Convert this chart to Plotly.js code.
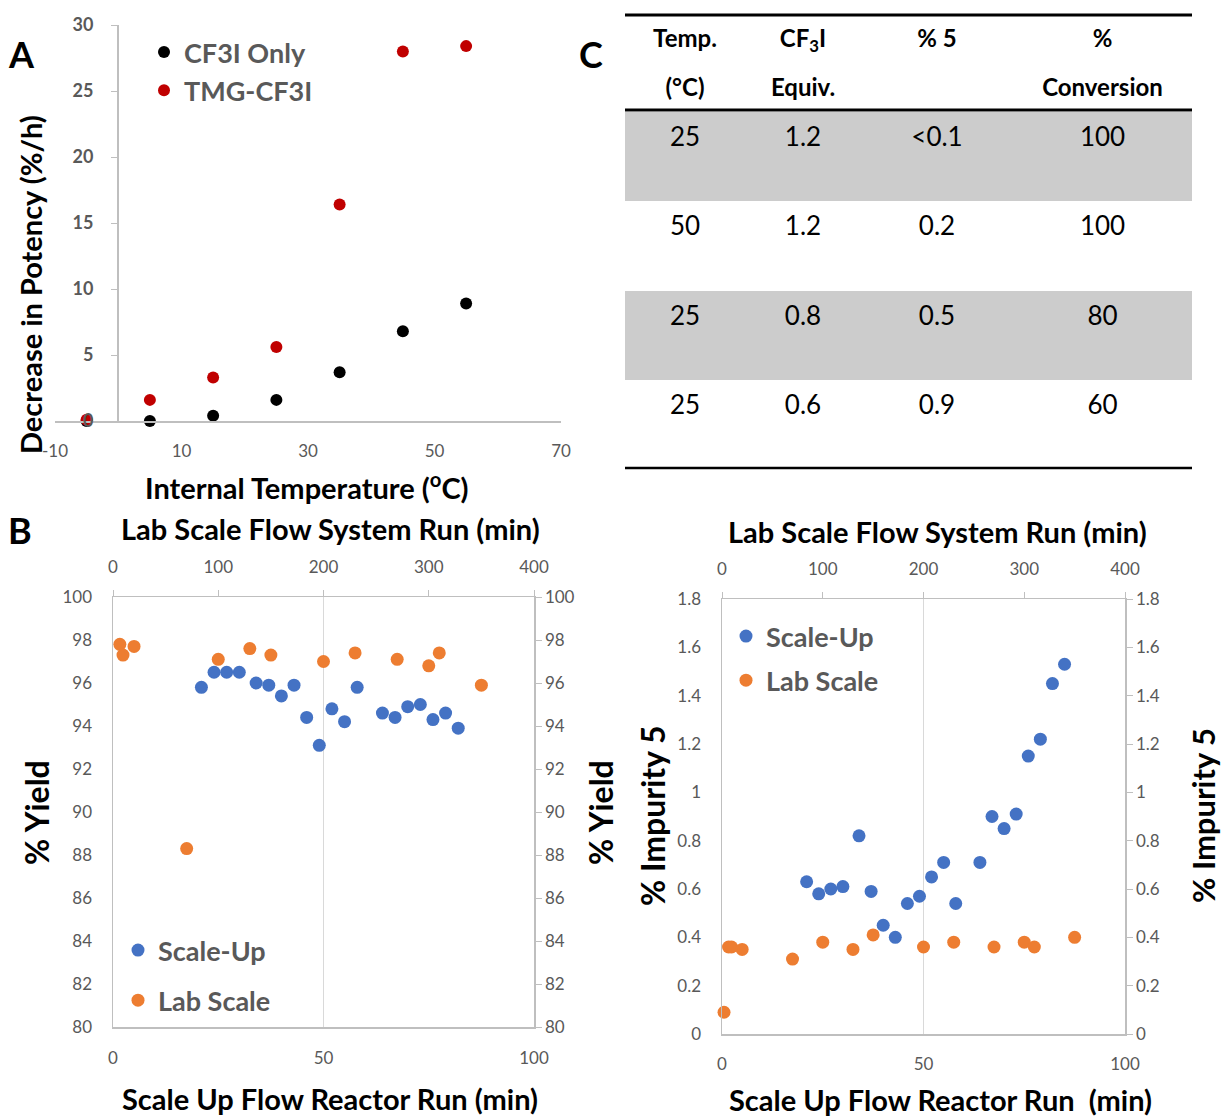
<!DOCTYPE html>
<html><head><meta charset="utf-8">
<script src="https://cdn.plot.ly/plotly-3.0.1.min.js"></script>
<style>html,body{margin:0;padding:0;background:#fff}#chart{width:1221px;height:1118px}</style>
</head><body><div id="chart"></div>
<script>
// ---------- Panel A data ----------
const tempC    = [-5, 5, 15, 25, 35, 45, 55];
const cf3iOnly = [0.0, 0.0, 0.4, 1.6, 3.7, 6.8, 8.9];
const tmgCf3i  = [0.1, 1.6, 3.3, 5.6, 16.4, 28.0, 28.4];
const tempTickVals = [-10, 10, 30, 50, 70];
const tempTickText = ['-10', '10', '30', '50', '70'];
// ---------- Panel B data ----------
const scaleUpYieldTime = [21,24,27,30,34,37,40,43,46,49,52,55,58,64,67,70,73,76,79,82];
const scaleUpYield     = [95.8,96.5,96.5,96.5,96.0,95.9,95.4,95.9,94.4,93.1,94.8,94.2,95.8,94.6,94.4,94.9,95.0,94.3,94.6,93.9];
const labYieldTime     = [6.5,9.5,20,70,100,130,150,200,230,270,300,310,350];
const labYield         = [97.8,97.3,97.7,88.3,97.1,97.6,97.3,97.0,97.4,97.1,96.8,97.4,95.9];
// ---------- Panel D data ----------
const scaleUpImpTime = [21,24,27,30,34,37,40,43,46,49,52,55,58,64,67,70,73,76,79,82,85];
const scaleUpImp     = [0.63,0.58,0.60,0.61,0.82,0.59,0.45,0.40,0.54,0.57,0.65,0.71,0.54,0.71,0.90,0.85,0.91,1.15,1.22,1.45,1.53];
const labImpTime     = [2,6.5,9.5,20,70,100,130,150,200,230,270,300,310,350];
const labImp         = [0.09,0.36,0.36,0.35,0.31,0.38,0.35,0.41,0.36,0.38,0.36,0.38,0.36,0.40];
const impTicks       = [0,0.2,0.4,0.6,0.8,1,1.2,1.4,1.6,1.8];
// ---------- Table C data ----------
const headerRow1 = ['Temp.', 'CF<sub>3</sub>I', '% 5', '%'];
const headerRow2 = ['(°C)', 'Equiv.', ' ', 'Conversion'];
const colTemp  = ['25','50','25','25'];
const colEquiv = ['1.2','1.2','0.8','0.6'];
const colImp5  = ['<0.1','0.2','0.5','0.9'];
const colConv  = ['100','100','80','60'];
const rowFills = ['#CCCCCC','#FFFFFF','#CCCCCC','#FFFFFF'];

// ---------- helpers / styles ----------
const W = 1221, H = 1118;
const fx = p => p / W, fy = p => 1 - p / H;
const FONT = 'Lato, "Open Sans", sans-serif';
const AX = '#BFBFBF', GRID = '#D9D9D9', TXT = '#595959';
const BLUE = '#4472C4', ORANGE = '#ED7D31', RED = '#C00000';
const tickFont = {family: FONT, size: 17, color: TXT};
const baseAx = {showline: true, linecolor: AX, linewidth: 1.5, showgrid: false, zeroline: false,
                tickfont: tickFont, fixedrange: true, ticks: '', tickcolor: AX, ticklen: 6};
const cellText = col => col.map(v => '<span>' + v + '</span>');

const mk = (c, s) => ({color: c, size: s});
const traces = [
  {type:'scatter', mode:'markers', name:'CF3I Only', x: tempC, y: cf3iOnly, xaxis:'x', yaxis:'y',
   marker: mk('#000000', 12), cliponaxis:false, legend:'legend', legendgroup:'a1'},
  {type:'scatter', mode:'markers', name:'TMG-CF3I', x: tempC, y: tmgCf3i, xaxis:'x', yaxis:'y',
   marker: mk(RED, 12), cliponaxis:false, legend:'legend', legendgroup:'a2'},
  {type:'scatter', mode:'markers', name:'Scale-Up', x: scaleUpYieldTime, y: scaleUpYield, xaxis:'x2', yaxis:'y2',
   marker: mk(BLUE, 13), cliponaxis:false, legend:'legend2', legendgroup:'b1'},
  {type:'scatter', mode:'markers', name:'Lab Scale', x: labYieldTime, y: labYield, xaxis:'x3', yaxis:'y3',
   marker: mk(ORANGE, 13), cliponaxis:false, legend:'legend2', legendgroup:'b2'},
  {type:'scatter', mode:'markers', name:'Scale-Up', x: scaleUpImpTime, y: scaleUpImp, xaxis:'x4', yaxis:'y4',
   marker: mk(BLUE, 13), cliponaxis:false, legend:'legend3', legendgroup:'d1'},
  {type:'scatter', mode:'markers', name:'Lab Scale', x: labImpTime, y: labImp, xaxis:'x5', yaxis:'y5',
   marker: mk(ORANGE, 13), cliponaxis:false, legend:'legend3', legendgroup:'d2'},
  {type:'table', domain:{x:[fx(625), fx(1192)], y:[fy(470), fy(15)]},
   columnwidth:[120,116,152,179],
   header:{values: headerRow1.map((h,i)=>['<b>'+h+'</b>', '<b>'+headerRow2[i]+'</b>']),
           align:'center', height:47.5, fill:{color:'#FFFFFF'}, line:{width:0, color:'rgba(0,0,0,0)'},
           font:{family:FONT, size:24, color:'#000000'}},
   cells:{values:[cellText(colTemp), cellText(colEquiv), cellText(colImp5), cellText(colConv)], align:'center', height:89.5,
          fill:{color:[rowFills,rowFills,rowFills,rowFills]}, line:{width:0, color:'rgba(0,0,0,0)'},
          font:{family:FONT, size:26, color:'#000000'}}}
];

const legFont = {family: FONT, size: 27, color: TXT, weight: 'bold'};
const ann = (text, x, y, size, extra) => Object.assign({text, x: fx(x), y: fy(y), xref:'paper', yref:'paper',
  showarrow:false, xanchor:'center', yanchor:'middle', font:{family:FONT, size, color:'#000000', weight:'bold'}}, extra||{});

const layout = {
  width: W, height: H, margin:{l:0,r:0,t:0,b:0}, paper_bgcolor:'#FFFFFF', plot_bgcolor:'rgba(0,0,0,0)',
  font:{family: FONT}, showlegend:true,
  // Panel A
  xaxis: Object.assign({}, baseAx, {domain:[fx(55), fx(561)], range:[-10,70], tickvals:tempTickVals, ticktext:tempTickText, anchor:'y', ticklabelstandoff:14}),
  yaxis: Object.assign({}, baseAx, {domain:[fy(421), fy(25)], range:[0,30], dtick:5, anchor:'free', position:fx(117),
          ticks:'outside', ticklen:6, ticklabelstandoff:14, tickfont:{family:FONT, size:18, color:TXT, weight:'bold'}}),
  // Panel B
  xaxis2: Object.assign({}, baseAx, {domain:[fx(113), fx(534)], range:[0,100], dtick:50, anchor:'y2', showgrid:true, gridcolor:GRID, ticklabelstandoff:15}),
  xaxis3: Object.assign({}, baseAx, {overlaying:'x2', side:'top', anchor:'y2', range:[0,400], dtick:100, ticks:'outside', ticklabelstandoff:10}),
  yaxis2: Object.assign({}, baseAx, {domain:[fy(1027), fy(597)], range:[80,100], dtick:2, anchor:'x2', ticklabelstandoff:16}),
  yaxis3: Object.assign({}, baseAx, {overlaying:'y2', side:'right', anchor:'x2', range:[80,100], dtick:2, ticks:'outside', ticklabelstandoff:0}),
  // Panel D
  xaxis4: Object.assign({}, baseAx, {domain:[fx(722), fx(1125)], range:[0,100], dtick:50, anchor:'y4', showgrid:true, gridcolor:GRID, ticklabelstandoff:14}),
  xaxis5: Object.assign({}, baseAx, {overlaying:'x4', side:'top', anchor:'y4', range:[0,400], dtick:100, ticks:'outside', ticklabelstandoff:10}),
  yaxis4: Object.assign({}, baseAx, {domain:[fy(1034), fy(599)], range:[0,1.8], tickvals:impTicks, anchor:'x4', ticklabelstandoff:16}),
  yaxis5: Object.assign({}, baseAx, {overlaying:'y4', side:'right', anchor:'x4', range:[0,1.8], tickvals:impTicks, ticks:'outside', ticklabelstandoff:0}),
  legend:  {x:fx(144), y:fy(28), xanchor:'left', yanchor:'top', bgcolor:'rgba(0,0,0,0)', font:legFont, tracegroupgap:0, traceorder:'grouped'},
  legend2: {x:fx(118), y:fy(926), xanchor:'left', yanchor:'top', bgcolor:'rgba(0,0,0,0)', font:legFont, tracegroupgap:12, traceorder:'grouped'},
  legend3: {x:fx(726), y:fy(612), xanchor:'left', yanchor:'top', bgcolor:'rgba(0,0,0,0)', font:legFont, tracegroupgap:6, traceorder:'grouped'},
  shapes: [
    {type:'line', xref:'paper', yref:'paper', x0:fx(625), x1:fx(1192), y0:fy(15), y1:fy(15), line:{color:'#000000', width:3}},
    {type:'line', xref:'paper', yref:'paper', x0:fx(625), x1:fx(1192), y0:fy(110), y1:fy(110), line:{color:'#000000', width:3}},
    {type:'line', xref:'paper', yref:'paper', x0:fx(625), x1:fx(1192), y0:fy(468), y1:fy(468), line:{color:'#000000', width:2.5}}
  ],
  annotations: [
    ann('A', 21, 54, 36), ann('B', 20, 530, 36), ann('C', 591, 54, 36),
    ann('Internal Temperature (<sup>o</sup>C)', 307, 486, 29),
    ann('Decrease in Potency (%/h)', 30, 285, 29, {textangle:-90}),
    ann('Lab Scale Flow System Run (min)', 330, 528, 29),
    ann('Scale Up Flow Reactor Run (min)', 330, 1098, 29),
    ann('% Yield', 36, 813, 32, {textangle:-90}),
    ann('% Yield', 600, 813, 32, {textangle:-90}),
    ann('Lab Scale Flow System Run (min)', 937, 531, 29),
    ann('Scale Up Flow Reactor Run  (min)', 940, 1099, 29),
    ann('% Impurity 5', 652, 816, 32, {textangle:-90}),
    ann('% Impurity 5', 1203, 816, 31, {textangle:-90})
  ]
};
Plotly.newPlot('chart', traces, layout, {displayModeBar:false, staticPlot:true});
</script></body></html>
